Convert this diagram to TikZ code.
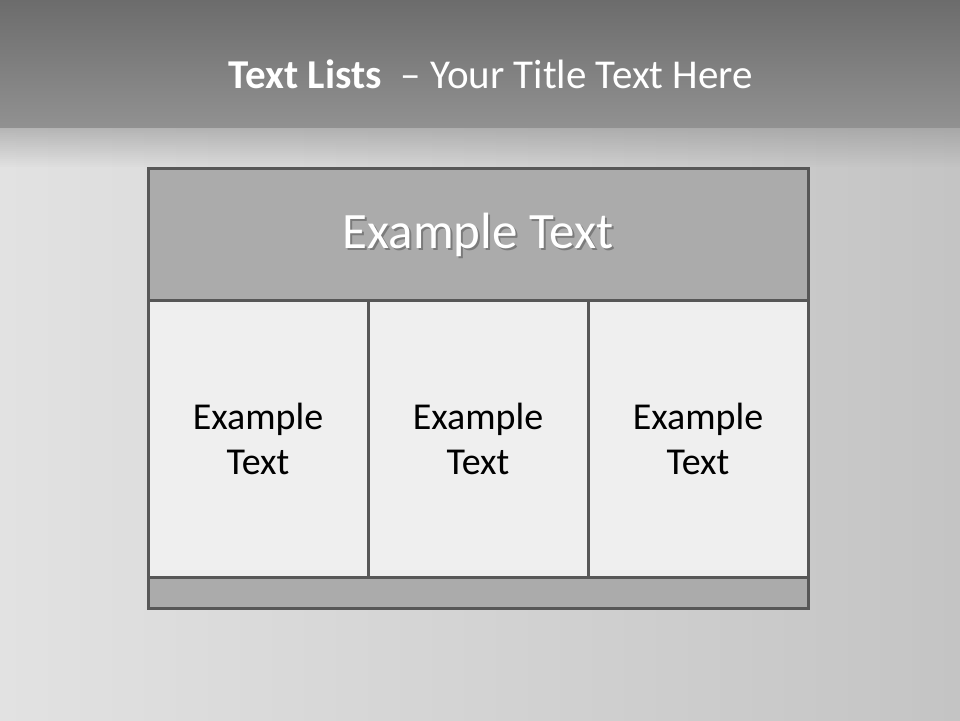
\documentclass[tikz,border=0pt]{standalone}
\usepackage{fontspec}
\setmainfont{Carlito}
\definecolor{edgegray}{HTML}{575757}
\definecolor{headfill}{HTML}{ABABAB}
\definecolor{cellfill}{HTML}{EFEFEF}
\definecolor{bandtop}{HTML}{6C6C6C}
\definecolor{bandbot}{HTML}{919191}
\definecolor{bgleft}{HTML}{E2E2E2}
\definecolor{bgright}{HTML}{C4C4C4}
\tikzset{
  box/.style={draw=edgegray, line width=3pt, anchor=north west, inner sep=0pt, outer sep=0pt},
  celltext/.style={align=center, font=\fontsize{38}{45}\selectfont, text=black},
}
\begin{document}
\begin{tikzpicture}[x=1pt,y=-1pt]
\useasboundingbox (0,0) rectangle (960,720);
% background
\shade[left color=bgleft, right color=bgright] (0,127) rectangle (960,720);
\shade[top color=bandtop, bottom color=bandbot] (0,0) rectangle (960,127);
\foreach \i in {0,...,19} {
  \pgfmathsetmacro{\op}{0.55*(1-\i/20)}
  \fill[bandbot, opacity=\op] (0,127+2*\i) rectangle (960,129+2*\i);
}
% title
\node[anchor=base, text=white, font=\fontsize{41}{49}\selectfont] (title) at (491,88)
  {\textbf{Text Lists}\ \ – Your Title Text Here};
% table
\node[box, fill=headfill, minimum width=660pt, minimum height=132pt] (head) at (148,168) {};
\node[box, fill=cellfill, minimum width=220pt, minimum height=277pt] (c1) at (148,300) {};
\node[box, fill=cellfill, minimum width=220pt, minimum height=277pt] (c2) at (368,300) {};
\node[box, fill=cellfill, minimum width=220pt, minimum height=277pt] (c3) at (588,300) {};
\node[box, fill=headfill, minimum width=660pt, minimum height=31pt] (foot) at (148,577) {};
% header text with shadow
\node[anchor=base, text=black!70, opacity=0.5, font=\fontsize{51}{58}\selectfont] at (480,250) {Example Text};
\node[anchor=base, text=white, font=\fontsize{51}{58}\selectfont] (headtext) at (478,248) {Example Text};
% cell texts
\node[celltext] (t1) at (c1.center) {Example\\Text};
\node[celltext] (t2) at (c2.center) {Example\\Text};
\node[celltext] (t3) at (c3.center) {Example\\Text};
\end{tikzpicture}
\end{document}
